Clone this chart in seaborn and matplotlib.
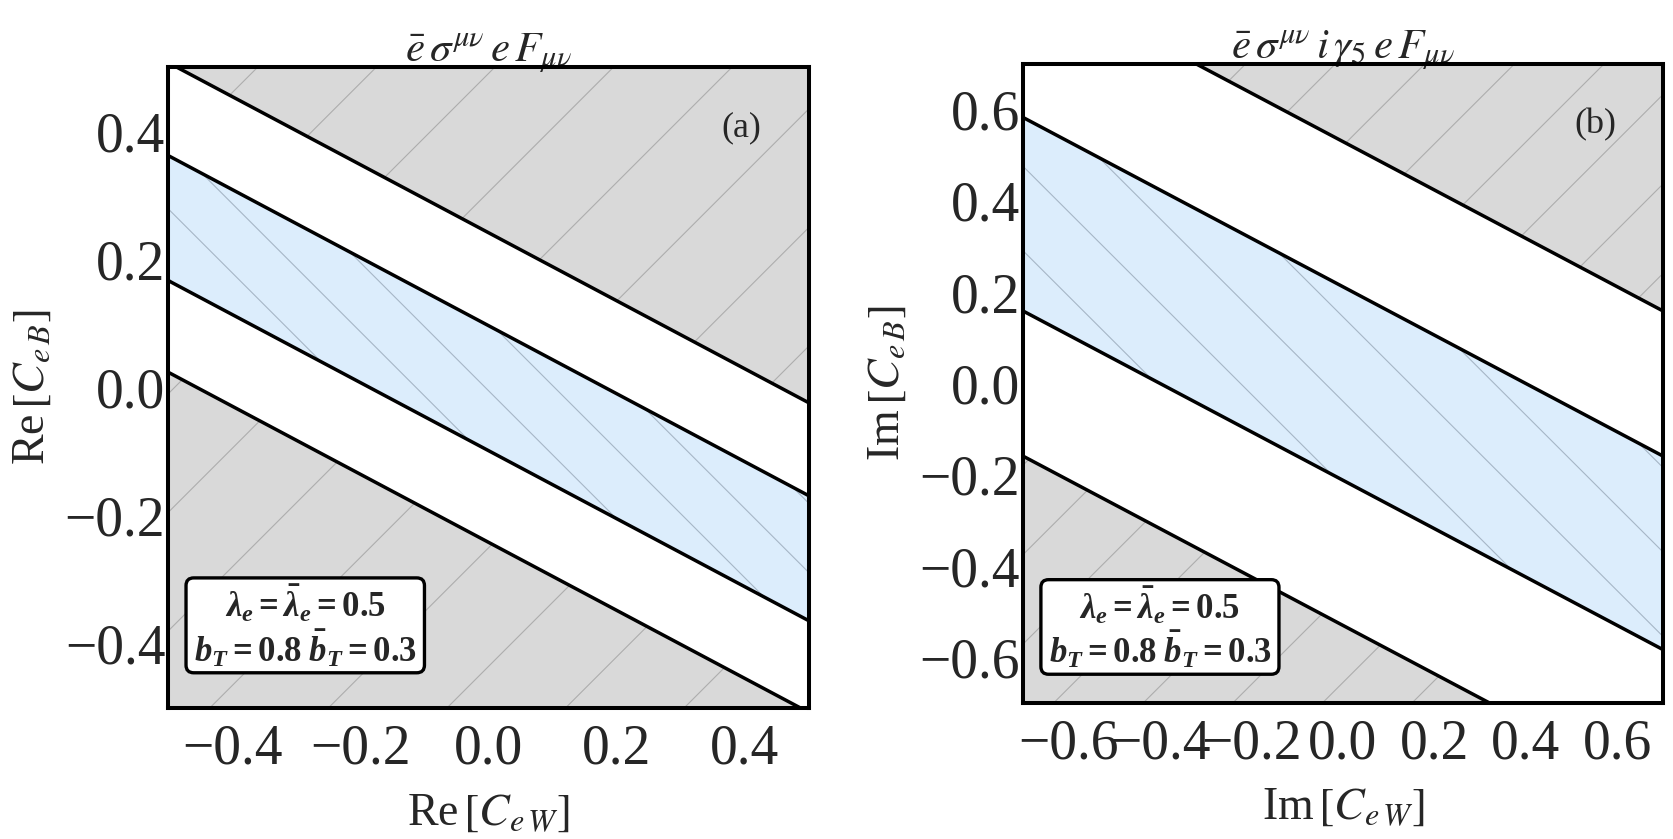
import numpy as np
import matplotlib
matplotlib.use("Agg")
import matplotlib.pyplot as plt
from matplotlib.patches import FancyBboxPatch
from matplotlib.ticker import MultipleLocator, FuncFormatter
import seaborn as sns

# panel (a): Re parts, lines given at the two x edges
x_a = [-0.5, 0.5]
lim_a = [-0.5, 0.5]
top_a = [0.507, -0.024]      # upper excluded region boundary
band_hi_a = [0.362, -0.169]  # blue band upper edge
band_lo_a = [0.167, -0.364]  # blue band lower edge
bot_a = [0.024, -0.507]      # lower excluded region boundary
ticks_a = [-0.4, -0.2, 0.0, 0.2, 0.4]

# panel (b): Im parts
x_b = [-0.7, 0.7]
lim_b = [-0.7, 0.7]
top_b = [0.901, 0.159]
band_hi_b = [0.583, -0.159]
band_lo_b = [0.159, -0.583]
bot_b = [-0.159, -0.901]
ticks_b = [-0.6, -0.4, -0.2, 0.0, 0.2, 0.4, 0.6]

titles = [r"$\bar{e}\,\sigma^{\mu\nu}\,e\,F_{\mu\nu}$",
          r"$\bar{e}\,\sigma^{\mu\nu}\,i\,\gamma_5\,e\,F_{\mu\nu}$"]
xlabels = [r"Re$\,[C_{e\,W}]$", r"Im$\,[C_{e\,W}]$"]
ylabels = [r"Re$\,[C_{e\,B}]$", r"Im$\,[C_{e\,B}]$"]
tags = ["(a)", "(b)"]
box_lines = [r"$\lambda_e = \bar{\lambda}_e = 0.5$",
             r"$b_T = 0.8\;\bar{b}_T = 0.3$"]

GRAY = "#d9d9d9"
GRAY_HATCH = "#adadad"
BLUE = "#dcedfc"
BLUE_HATCH = "#a6b6c6"

sns.set_theme(style="white")
plt.rcParams["font.family"] = ["Liberation Serif", "DejaVu Serif"]
plt.rcParams["mathtext.fontset"] = "stix"
# bold fonts used only by the parameter box (math_fontfamily="custom")
plt.rcParams["mathtext.rm"] = "Liberation Serif:bold"
plt.rcParams["mathtext.it"] = "Liberation Serif:italic:bold"
plt.rcParams["mathtext.bf"] = "Liberation Serif:bold"


def fmt(v, p):
    return f"{v:.1f}".replace("-", "\u2212")


def hatch(ax, patch, lim, slope, start, step, color):
    path = patch.get_paths()[0]
    span = lim[1] - lim[0]
    for c in np.arange(start - 4 * span, start + 4 * span, step):
        ln, = ax.plot([lim[0], lim[1]], [slope * lim[0] + c, slope * lim[1] + c],
                      color=color, lw=0.8, zorder=2)
        ln.set_clip_path(path, ax.transData)


def panel(ax, x, lim, top, hi, lo, bot, ticks, hatch_gray, hatch_blue, k):
    g1 = ax.fill_between(x, top, lim[1] + 1, color=GRAY, lw=0, zorder=1)
    g2 = ax.fill_between(x, lim[0] - 1, bot, color=GRAY, lw=0, zorder=1)
    b = ax.fill_between(x, lo, hi, color=BLUE, lw=0, zorder=1)
    hatch(ax, g1, lim, 1.0, hatch_gray[0], hatch_gray[1], GRAY_HATCH)
    hatch(ax, g2, lim, 1.0, hatch_gray[0], hatch_gray[1], GRAY_HATCH)
    hatch(ax, b, lim, -1.0, hatch_blue[0], hatch_blue[1], BLUE_HATCH)
    for y in (top, hi, lo, bot):
        sns.lineplot(x=x, y=y, ax=ax, color="black", lw=2.5, zorder=4)

    ax.set_xlim(lim)
    ax.set_ylim(lim)
    ax.set_xticks(ticks)
    ax.set_yticks(ticks)
    ax.xaxis.set_minor_locator(MultipleLocator(0.05))
    ax.yaxis.set_minor_locator(MultipleLocator(0.05))
    ax.tick_params(which="both", direction="in", top=False, right=False,
                   color="black", width=1.6, labelsize=40)
    ax.tick_params(which="major", length=7)
    ax.tick_params(which="minor", length=4)
    ax.tick_params(axis="x", pad=11)
    ax.tick_params(axis="y", pad=2)
    ax.xaxis.set_major_formatter(FuncFormatter(fmt))
    ax.yaxis.set_major_formatter(FuncFormatter(fmt))
    for s in ax.spines.values():
        s.set_color("black")
        s.set_linewidth(2.9)
        s.set_zorder(6)

    ax.set_title(titles[k], fontsize=31, pad=4)
    ax.set_xlabel(xlabels[k], fontsize=33)
    ax.set_ylabel(ylabels[k], fontsize=33)
    ax.xaxis.label.set_va("center")
    ax.yaxis.label.set_va("center")
    ax.xaxis.set_label_coords(0.5, -0.164)
    ax.yaxis.set_label_coords(-0.212, 0.5)

    ax.text(0.895, 0.905, tags[k], transform=ax.transAxes, fontsize=26,
            ha="center", va="center", zorder=7)
    y0 = 0.045 if k else 0.055
    box = FancyBboxPatch((0.028, y0), 0.372, 0.148,
                         boxstyle="round,pad=0,rounding_size=0.012",
                         transform=ax.transAxes, fc="white", ec="black",
                         lw=2.4, zorder=7)
    ax.add_patch(box)
    ax.text(0.214, y0 + 0.107, box_lines[0], transform=ax.transAxes,
            fontsize=25, ha="center", va="center", zorder=8,
            math_fontfamily="custom")
    ax.text(0.214, y0 + 0.037, box_lines[1], transform=ax.transAxes,
            fontsize=25, ha="center", va="center", zorder=8,
            math_fontfamily="custom")


fig = plt.figure(figsize=(16.74, 8.39), dpi=100)
ax_a = fig.add_axes([0.1004, 0.1561, 0.3829, 0.764])
ax_b = fig.add_axes([0.6111, 0.1621, 0.3823, 0.7616])

panel(ax_a, x_a, lim_a, top_a, band_hi_a, band_lo_a, bot_a, ticks_a,
      (0.05, 0.185), (-0.109, 0.108), 0)
panel(ax_b, x_b, lim_b, top_b, band_hi_b, band_lo_b, bot_b, ticks_b,
      (0.045, 0.196), (0.011, 0.185), 1)

fig.savefig("out.png", dpi=100)
